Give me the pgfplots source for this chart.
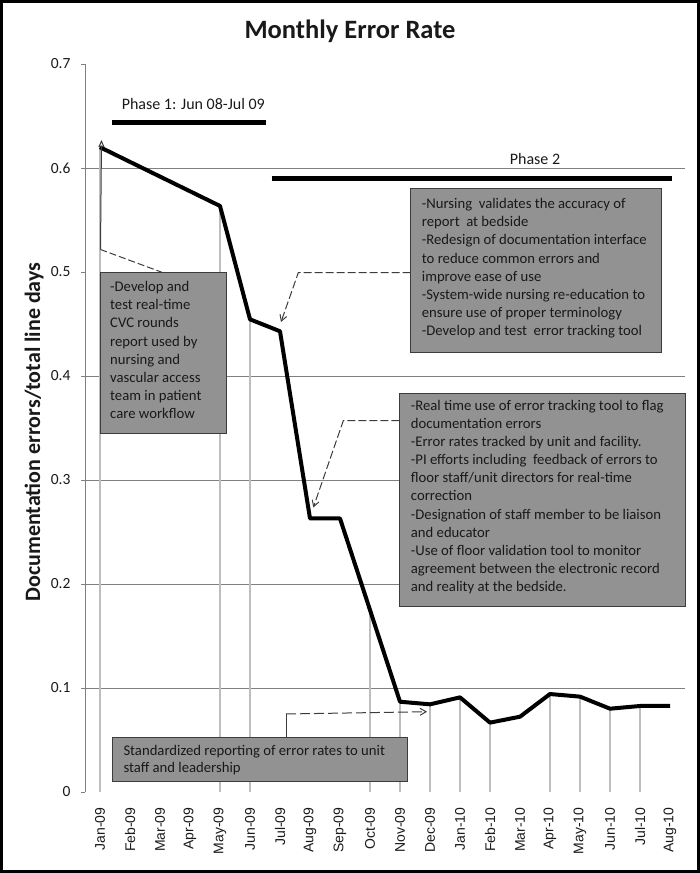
\documentclass[border=0pt]{standalone}
\usepackage{pgfplots}
\pgfplotsset{compat=1.18}
\usepackage{fontspec}
\setmainfont{Carlito}
\newfontfamily\arialfont{Liberation Sans}
\usetikzlibrary{arrows.meta}

\definecolor{boxgray}{RGB}{146,146,146}
\definecolor{boxedge}{RGB}{60,60,60}
\definecolor{gridgray}{RGB}{128,128,128}
\definecolor{dropgray}{RGB}{190,190,190}
\definecolor{txt}{RGB}{25,25,25}

\newcommand\fs[1]{\fontsize{#1}{#1}\selectfont}
\newcommand\boxlines[4]{%
  \foreach \t [count=\i from 0] in {#4} {%
    \node[anchor=base west, inner sep=0pt, font=\fs{14.7}, text=txt] at (#1, {#2+#3*\i}) {\t};}}

\begin{document}
\begin{tikzpicture}[x=1pt,y=1pt]
\path[use as bounding box] (0,0) rectangle (700,873);
\begin{axis}[
  at={(85pt,81pt)}, anchor=south west,
  scale only axis, width=600pt, height=728pt,
  xmin=-0.5, xmax=19.5, ymin=0, ymax=0.7,
  axis y line*=left, axis x line*=bottom,
  separate axis lines,
  x axis line style={draw=none},
  y axis line style={draw=gridgray, line width=0.9pt},
  xtick={0,1,2,3,4,5,6,7,8,9,10,11,12,13,14,15,16,17,18,19},
  xticklabels={Jan-09,Feb-09,Mar-09,Apr-09,May-09,Jun-09,Jul-09,Aug-09,Sep-09,Oct-09,Nov-09,Dec-09,Jan-10,Feb-10,Mar-10,Apr-10,May-10,Jun-10,Jul-10,Aug-10},
  x tick style={draw=none},
  xticklabel style={rotate=90, anchor=east, font=\arialfont\fs{14}, text=txt, xshift=-8pt},
  ytick={0,0.1,0.2,0.3,0.4,0.5,0.6,0.7},
  yticklabels={0,0.1,0.2,0.3,0.4,0.5,0.6,0.7},
  y tick style={draw=gridgray, line width=0.9pt},
  tick align=outside, major tick length=4pt,
  yticklabel style={font=\fs{15.5}, text=txt, xshift=-7pt},
  clip=false,
]
\draw[gridgray, line width=0.9pt] (axis cs:-0.5,0.1) -- (axis cs:19.5,0.1);
\draw[gridgray, line width=0.9pt] (axis cs:-0.5,0.2) -- (axis cs:19.5,0.2);
\draw[gridgray, line width=0.9pt] (axis cs:-0.5,0.3) -- (axis cs:19.5,0.3);
\draw[gridgray, line width=0.9pt] (axis cs:-0.5,0.4) -- (axis cs:19.5,0.4);
\draw[gridgray, line width=0.9pt] (axis cs:-0.5,0.6) -- (axis cs:19.5,0.6);
% drop lines
\addplot[ycomb, draw=dropgray, line width=1.2pt, mark=none] coordinates {
 (0,0.620) (4,0.5635) (5,0.4545) (9,0.175) (10,0.0868) (11,0.0843) (12,0.0910)
 (13,0.0667) (15,0.0942) (16,0.0917) (17,0.0801) (18,0.0827)};
% monthly error rate
\addplot[black, line width=4pt, line join=round, mark=none] coordinates {
 (0,0.620) (4,0.5635) (5,0.4545) (6,0.443) (7,0.263) (8,0.263) (9,0.175)
 (10,0.0868) (11,0.0843) (12,0.0910) (13,0.0667) (14,0.0724) (15,0.0942)
 (16,0.0917) (17,0.0801) (18,0.0827) (19,0.0827)};
% phase bars
\addplot[black, line width=4.5pt, mark=none] coordinates {(0.4,0.6436) (5.53,0.6436)};
\addplot[black, line width=4.5pt, mark=none] coordinates {(5.72,0.590) (19.08,0.590)};
\end{axis}

% y label
\node[rotate=90, font=\bfseries\fs{22}, text=txt] at (34,{873-432}) {Documentation errors/total line days};

\begin{scope}[shift={(0,873)}, yscale=-1]
% frame
\draw[black, line width=3pt] (1.5,1.5) rectangle (698.5,871.5);
% title
\node[anchor=base, inner sep=0pt, font=\bfseries\fs{26.5}, text=txt] at (350,38.5) {Monthly Error Rate};
% phase labels
\node[anchor=base, inner sep=0pt, font=\fs{16}, text=txt] at (193.3,110) {Phase 1: Jun 08-Jul 09};
\node[anchor=base, inner sep=0pt, font=\fs{16}, text=txt] at (535,165) {Phase 2};

% arrows
\draw[boxedge, line width=1pt, dash pattern=on 7pt off 3pt] (163,272.7) -- (100.5,249.5);
\draw[boxedge, line width=1pt, -{Triangle[open, length=7pt, width=6pt]}] (100.5,249.5) -- (101.5,140);
\draw[boxedge, line width=1pt, dash pattern=on 8pt off 3pt, -{Straight Barb[length=6pt, width=7pt]}] (410.7,272.7) -- (298.3,272.7) -- (281,322);
\draw[boxedge, line width=1pt, dash pattern=on 8pt off 3pt, -{Straight Barb[length=6pt, width=7pt]}] (399.3,420.7) -- (343.3,420.7) -- (313.3,507.5);
\draw[boxedge, line width=1pt] (286,737.3) -- (286,714);
\draw[boxedge, line width=1pt, dash pattern=on 10pt off 4pt, -{Straight Barb[length=6pt, width=7pt]}] (286,714) -- (427,711.7);

% boxes
\filldraw[fill=boxgray, draw=boxedge, line width=0.9pt] (100,272.7) rectangle (226.7,433.3);
\filldraw[fill=boxgray, draw=boxedge, line width=0.9pt] (410.7,188.3) rectangle (661.7,352.7);
\filldraw[fill=boxgray, draw=boxedge, line width=0.9pt] (399.3,393.3) rectangle (685,606);
\filldraw[fill=boxgray, draw=boxedge, line width=0.9pt] (112.3,737.3) rectangle (407.3,781.7);

\boxlines{110}{291.8}{18.1}{{-Develop and},{test real-time},{CVC rounds},{report used by},{nursing and},{vascular access},{team in patient},{care workflow}}
\boxlines{421.7}{208.5}{18.2}{{-Nursing\ \ validates the accuracy of},{report\ \ at bedside},{-Redesign of documentation interface},{to reduce common errors and},{improve ease of use},{-System-wide nursing re-education to},{ensure use of proper terminology},{-Develop and test\ \ error tracking tool}}
\boxlines{410.7}{410.5}{18.1}{{-Real time use of error tracking tool to flag},{documentation errors},{-Error rates tracked by unit and facility.},{-PI efforts including\ \ feedback of errors to},{floor staff/unit directors for real-time},{correction},{-Designation of staff member to be liaison},{and educator},{-Use of floor validation tool to monitor},{agreement between the electronic record},{and reality at the bedside.}}
\boxlines{123.3}{755.2}{17.8}{{Standardized reporting of error rates to unit},{staff and leadership}}
\end{scope}
\end{tikzpicture}
\end{document}
